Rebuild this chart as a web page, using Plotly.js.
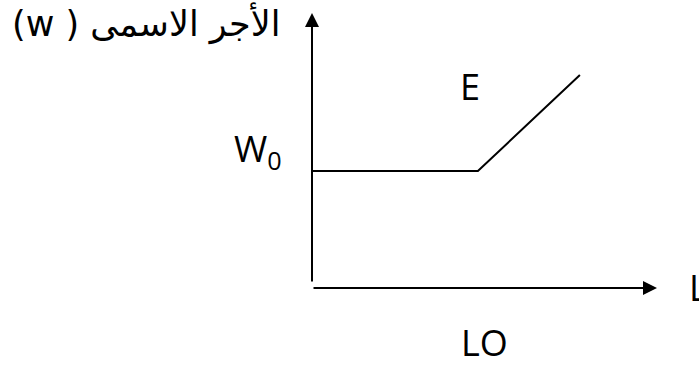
<!DOCTYPE html>
<html>
<head>
<meta charset="utf-8">
<script src="https://cdn.plot.ly/plotly-3.0.1.min.js"></script>
<style>html,body{margin:0;padding:0;background:#fff;}#chart{width:699px;height:365px;}</style>
</head>
<body>
<div id="chart"></div>
<script>
// Wage curve: flat at W0 until LO, then rising
const labourValues = [0, 5.53, 8.93];
const wageValues = [3.9, 3.9, 7.1];
// axis arrow extents (data units)
const xAxisEnd = 11.5;
const yAxisEnd = 9.17;
const yAxisStart = 0.17;

const titleText = '(w ) الأجر الاسمى';
const xLabel = 'L';
const pointLabel = 'E';
const wageLabel = 'W<sub>0</sub>';
const kinkLabel = 'LO';

const latin = 'Open Sans, sans-serif';

const trace = {
  x: labourValues, y: wageValues, type: 'scatter', mode: 'lines',
  line: {color: '#000', width: 2}, hoverinfo: 'skip', showlegend: false
};

const layout = {
  width: 699, height: 365,
  margin: {l: 0, r: 0, t: 0, b: 0},
  paper_bgcolor: '#fff', plot_bgcolor: '#fff',
  xaxis: {range: [-10.4, 12.9], visible: false, fixedrange: true},
  yaxis: {range: [-2.5667, 9.6], visible: false, fixedrange: true},
  annotations: [
    {x: xAxisEnd, y: 0, ax: 0, ay: 0, xref: 'x', yref: 'y', axref: 'x', ayref: 'y',
     text: '', showarrow: true, arrowhead: 2, arrowsize: 1.4, arrowwidth: 2, arrowcolor: '#000', standoff: 0},
    {x: 0, y: yAxisEnd, ax: 0, ay: yAxisStart, xref: 'x', yref: 'y', axref: 'x', ayref: 'y',
     text: '', showarrow: true, arrowhead: 2, arrowsize: 1.4, arrowwidth: 2, arrowcolor: '#000', standoff: 0},
    {xref: 'paper', yref: 'paper', x: 470/699, y: 1 - 86/365, text: pointLabel, showarrow: false,
     xanchor: 'center', yanchor: 'middle', font: {family: latin, size: 36, color: '#000'}},
    {xref: 'paper', yref: 'paper', x: 484/699, y: 1 - 342/365, text: kinkLabel, showarrow: false,
     xanchor: 'center', yanchor: 'middle', font: {family: latin, size: 36, color: '#000'}},
    {xref: 'paper', yref: 'paper', x: 687/699, y: 1 - 287/365, text: xLabel, showarrow: false,
     xanchor: 'left', yanchor: 'middle', font: {family: latin, size: 36, color: '#000'}},
    {xref: 'paper', yref: 'paper', x: 232/699, y: 1 - 150/365, text: wageLabel, showarrow: false,
     xanchor: 'left', yanchor: 'middle', font: {family: latin, size: 36, color: '#000'}},
    {xref: 'paper', yref: 'paper', x: 10/699, y: 1 - 24/365, text: titleText, showarrow: false,
     xanchor: 'left', yanchor: 'middle', font: {family: 'DejaVu Sans', size: 35, color: '#000'}}
  ]
};

Plotly.newPlot('chart', [trace], layout, {staticPlot: true, displayModeBar: false});
</script>
</body>
</html>
